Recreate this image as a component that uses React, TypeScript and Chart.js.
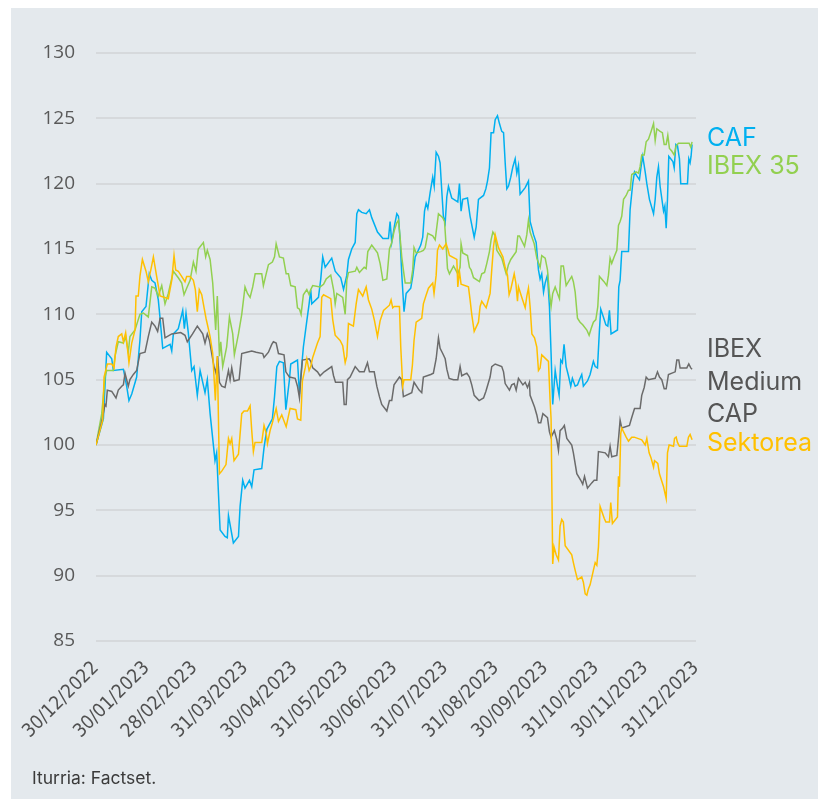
import React, { useEffect, useRef } from "react";
import { Chart, registerables } from "chart.js";

Chart.register(...registerables);

// X axis: days since 30/12/2022, month-end ticks
const tickDays = [0, 31, 60, 91, 121, 152, 182, 213, 244, 274, 305, 335, 366];
const tickLabels = [
  "30/12/2022", "30/01/2023", "28/02/2023", "31/03/2023", "30/04/2023", "31/05/2023",
  "30/06/2023", "31/07/2023", "31/08/2023", "30/09/2023", "31/10/2023", "30/11/2023", "31/12/2023",
];
const yMin = 85;
const yMax = 130;
const yStep = 5;

const seriesNames = ["CAF", "IBEX 35", "IBEX Medium CAP", "Sektorea"];
const seriesColors = ["#00b0f0", "#92d050", "#6b6b6b", "#ffc000"];
const labelColors = ["#00b0f0", "#92d050", "#555555", "#ffc000"];

// [day, value]
const cafSeries: [number, number][] = [[0,100],[4.5,102],[6.5,107.1],[9.6,106.6],[10.6,105.7],[16.7,105.8],[18.7,104.5],[20.1,103.4],[21.8,103.9],[24.8,105.2],[26.8,108],[27.9,110.2],[30.5,110.6],[32.5,113.1],[34,112.6],[36,112.4],[38,111.1],[39,109.8],[40.7,107.4],[45.2,107.7],[46.2,107.2],[47.2,108.5],[50.2,108.9],[52.9,110.3],[53.9,108.9],[54.9,110.1],[56.3,108.6],[58.4,105.7],[59.8,106],[61.8,103.8],[63.5,105.7],[66.5,104],[67.9,105],[69.6,102.4],[72.6,98.8],[73.6,99.4],[75.7,93.5],[78.7,93],[80.1,92.9],[80.8,94.6],[83.8,92.5],[86.9,93],[87.9,95.3],[89.5,97.3],[90.9,96.7],[93.6,97.3],[95,96.8],[96.4,98.1],[101.1,98.2],[102.5,99.8],[104.2,101.2],[107.6,102],[108.9,103.7],[110.3,106],[111.9,106.4],[114.3,106.3],[115.8,102.7],[118,105],[118.8,106.2],[122.9,106.5],[124.1,103.9],[125.1,105.5],[126.5,107.5],[128.6,109.5],[130,110.8],[131,111.9],[131.6,110.8],[135.7,111.3],[137.1,112.7],[138.3,114.4],[139.8,113.6],[143.8,114.3],[145.9,113.3],[149.3,112.8],[151,111.9],[153,113],[154,114.2],[156,115],[158.1,115.5],[159.1,117.7],[160.1,118],[162.1,117.8],[164.8,117.7],[166.8,118],[168.2,117.4],[171.7,116.3],[175,115.8],[178.4,115.8],[179.4,117.1],[180.4,115.5],[182.1,116.8],[183.5,117.7],[184.5,117.5],[185.5,115.7],[186.5,113.1],[187.9,110.2],[189.2,111.6],[192,112],[193.2,112.9],[194.7,114.4],[198.1,115.3],[199.3,115.9],[200.4,117.9],[201.4,118.5],[202.4,118.1],[203.8,119.3],[205.4,120.5],[206.3,119.8],[207.5,122.4],[208.9,122.1],[209.9,121.6],[210.9,119.5],[211.9,117.5],[213,117],[214,119],[215,119.8],[217,118.9],[220.7,118.6],[221.7,120],[222.7,117.9],[223.7,118.8],[226.6,118.9],[228.2,117.5],[230.7,115.9],[231.9,116.7],[233.3,118.8],[236.4,119.1],[237.8,119.6],[238.8,120.2],[240,121.2],[241,123.9],[242.5,123.9],[243.5,124.9],[244.9,125.2],[246.1,124.6],[247.5,124],[248.6,123.9],[249.6,121.6],[250.6,119.6],[251.6,119.8],[253,120.5],[254.3,121.3],[255.7,121.9],[256.7,120.8],[257.7,121.4],[258.7,119.2],[261.8,119.7],[263.8,120.2],[264.8,117.1],[265.9,116.6],[266.9,116.1],[268.5,115.5],[269.9,113.4],[270.9,112.7],[271.9,113.1],[273,111.7],[274,112.4],[275.4,113],[276.6,110.6],[277.6,107],[278.6,103.1],[280.1,105.7],[281.5,104.5],[282.5,103.8],[283.5,106.5],[284.5,106.3],[285.5,107.7],[286.8,106],[288.2,105.3],[289.6,104.5],[290.6,105.1],[292.3,104.5],[293.7,104.6],[294.9,105],[296.3,105.4],[297.3,104.5],[299.8,104.9],[301.4,105.4],[303.4,106.4],[304.5,106],[305.9,105.9],[307.1,108.8],[307.9,110.4],[309.5,109.8],[311,109.2],[312.2,109.1],[313.2,110.3],[314.2,108.5],[318.1,108.8],[318.9,112.1],[319.7,112.6],[320.7,114.8],[324.8,114.8],[325.8,118],[327.4,120],[328.5,120.9],[329.9,120.6],[331.5,120.3],[332.5,121.3],[333.5,122.1],[335,120.9],[336,120],[337.6,118.8],[340.1,117.7],[341.1,118.8],[342.1,120.5],[343.1,121.3],[344.1,119.8],[346.2,117.9],[347,118.3],[347.8,116.6],[348.6,118.8],[349.4,122.1],[351.9,121.7],[352.7,121.2],[353.7,123],[354.7,122.9],[355.9,121.9],[356.7,120],[360.8,120],[361.6,121.9],[362.4,121.6],[363,122.1],[363.6,123]];

const ibex35Series: [number, number][] = [[0,100],[3.5,102.4],[5.5,105.2],[6.5,105.7],[10.6,105.7],[11.6,106.8],[13.6,107.9],[16.7,107.8],[18.1,108.3],[19.7,107.1],[20.7,108.3],[23.8,108.8],[26.8,110],[28.9,110.1],[31.9,109.8],[34,112.1],[36,112],[38,111.4],[40.1,112.2],[42.1,110.8],[44.1,111.6],[47.2,113.3],[50.2,112.8],[52.3,112.4],[53.7,111.5],[55.3,112],[57.4,112.6],[59.4,114],[61,113.3],[62.4,115],[65.5,115.5],[66.9,114.4],[67.9,114.9],[69.6,114.2],[71.2,112.4],[73,108.8],[74,111.4],[75.3,106.8],[76.1,107.9],[77.3,106],[79.7,107.5],[81.4,109.8],[83.4,108.5],[84.4,106.9],[86.9,108.5],[88.9,110],[90.9,112.1],[92.4,111.6],[94,111.3],[95.6,112.1],[97.1,113.1],[101.1,113.1],[102.1,112.2],[103.8,113.1],[105.2,113.8],[107.6,114],[108.9,114.4],[109.9,115.4],[111.9,114.4],[114.3,114.3],[116,113.1],[117.4,113.1],[118.8,112.2],[121.5,112.1],[122.9,110.5],[124.1,110.4],[125.1,110],[126.5,111.5],[128.6,111.9],[130,111.5],[131,111.9],[132.2,112.2],[136.7,112.1],[138.8,112.3],[140.4,112.7],[143.2,113],[144.9,111.9],[145.9,110.8],[146.9,111.6],[150.5,111.3],[152,110],[153,112.6],[154,113.2],[158.1,113.3],[159.1,113.6],[160.7,113.2],[163.6,113.6],[164.8,113.5],[165.8,114.8],[168.2,115.3],[171.7,114.7],[173.3,113.9],[175,112.6],[177.4,112.7],[179,115],[180.4,115.5],[181.9,116.4],[183.5,117],[184.5,117.2],[185.5,115.9],[186.5,114.4],[187.5,113.4],[188.6,112.4],[192,112.4],[193.2,113.4],[194,115.1],[195.3,114.7],[198.1,114.8],[199.7,114.9],[200.8,115.1],[202.4,116.2],[205.4,116],[206.9,115.7],[207.9,116.7],[208.9,117.7],[211.5,117.4],[212.6,117.1],[213.6,115.2],[214.4,113.5],[215.6,113.1],[218.1,113.7],[220.7,113.1],[222.1,113.6],[222.7,115.4],[223.7,114.7],[226.6,114.5],[227.8,113.6],[228.8,113.4],[230.3,112.8],[233.9,112.5],[235.3,113.1],[237,113.2],[238.4,113.9],[240,114.8],[241,115.7],[242.1,116.3],[243.5,116],[244.5,114.9],[247.5,114.3],[250.2,113.1],[251.6,113.8],[253,114.2],[256.3,114.8],[257.3,116],[258.3,116],[261.4,115.2],[262.8,116.1],[263.8,117.2],[264.8,116.3],[267.3,115.4],[268.9,114.3],[270.9,113.6],[271.9,114.5],[274,114.3],[275.4,113.4],[276.6,111.6],[277.6,110.6],[278.6,111.6],[280.1,112.1],[281.5,111.6],[282.7,111.2],[283.7,113.7],[285.1,113.7],[286.8,112.2],[288.2,112.5],[290.2,112.9],[291.2,112.5],[292.3,111.7],[293.7,109.7],[295.3,109.4],[296.9,109.2],[299.4,108.8],[300.8,108.4],[302,108.9],[303.4,109.4],[304.9,109.6],[306.1,110.6],[307.1,112.9],[309.9,112.5],[311.6,112.2],[312.6,113],[313.6,114.3],[314.6,113.9],[316.1,114.4],[317.7,114.9],[318.7,116.8],[319.7,117.1],[320.7,117.5],[321.8,118.8],[323.4,119.1],[324.8,119.5],[325.8,119.5],[326.8,120.7],[329.5,120.9],[330.9,120.8],[331.9,121.3],[332.9,122.2],[334.4,122.2],[335.6,123.2],[337,123.4],[338.6,124],[340.1,124.6],[341.1,123.3],[342.1,124.2],[344.1,124],[345.5,123.9],[346.6,123],[347.8,123],[348.8,123.7],[349.8,122.7],[351.2,122.5],[352.7,122.2],[353.9,122.9],[355.3,123.1],[361.8,123.1],[362.8,122.8],[363.6,123.2]];

const ibexMediumSeries: [number, number][] = [[0,100],[3.5,101.8],[5.5,103.1],[6.1,103],[6.9,104.2],[9.6,104.1],[12.2,103.6],[13.6,104.2],[15.7,104.5],[16.7,104.6],[17.7,105.5],[18.7,105],[19.7,104.5],[20.7,105],[22.8,105.4],[24.8,105.7],[26.8,107],[29.9,107.1],[31.9,108.3],[34,109.4],[36,109.1],[37.6,108.7],[39.1,109.7],[40.7,109.7],[42.1,108.2],[46.2,108.5],[51.7,108.6],[54.3,108.4],[55.7,107.9],[58.9,108.5],[61.8,109.1],[65.1,108.5],[66.5,107.8],[67.9,108.5],[69.2,108],[70.6,107],[72,106],[73.2,105.5],[74.2,106.8],[75.3,104.8],[76.7,104.5],[78.7,104.4],[80.8,105.7],[81.8,105],[82.8,105.9],[84.2,104.9],[87.3,105],[88.9,107],[92,107.1],[95,107.2],[97.7,107.1],[101.7,107],[102.5,106.7],[105.2,107.1],[107.2,107.7],[108.2,107.9],[109.9,107.8],[111.3,107],[114.7,106.9],[115.8,105.6],[118,105.2],[121.5,105.1],[122.9,104.5],[124.1,103.6],[124.9,105],[125.9,106.5],[130,106.6],[131,106.4],[132.2,105.9],[135.1,105.6],[136.7,105.3],[139.2,105.6],[143.8,106],[144.9,105.3],[146.1,104.8],[150.5,104.8],[151.4,103.1],[152.6,103.1],[153.4,105],[155,105.2],[158.1,106],[160.7,105.6],[163.6,105.6],[165.6,106.3],[166.8,105.6],[169.7,105.6],[171.3,104.5],[172.9,103.7],[174.3,103.1],[177.4,102.6],[179,103.4],[180.4,103.4],[181.8,104.6],[185.1,105.2],[186.5,105],[187.5,103.7],[192.6,104],[194,104.8],[197.1,104.2],[198.7,104],[199.7,105.2],[204.2,105.4],[205.8,105.5],[207.5,106.6],[208.9,108.2],[209.9,107.4],[211.5,107],[213,106.6],[214,105.8],[215.4,105.1],[218.1,105],[220.7,105],[222.1,106],[223.1,105.3],[226.2,105.5],[227.8,105.2],[229.2,104.6],[230.7,103.8],[233.7,103.4],[236.4,103.6],[237.8,104.1],[240.4,105.2],[241.4,106],[243.5,106.2],[247.5,106],[248.6,105.6],[249.6,104.7],[252.2,104.2],[253.6,104.6],[255.1,104.7],[256.3,104.2],[257.7,105.1],[260.4,104.6],[261.8,104.8],[263.2,104.4],[264.4,104.8],[264.8,103.8],[267.5,102.9],[268.9,102.3],[269.9,101.7],[271.3,101.7],[272.6,102.4],[275.4,102.1],[276.6,101],[277.6,100.6],[279.6,101.1],[281.1,100.4],[282.1,99.6],[283.1,101.1],[284.7,101.3],[285.7,101.5],[287.2,100.5],[290.2,100],[291.2,99.4],[293.3,97.8],[295.7,97.3],[296.9,97],[298,97.6],[299.8,96.7],[302.4,97.1],[303.9,97.3],[305.5,97.3],[306.5,99.5],[310.6,99.4],[312.6,99.1],[313.6,99.9],[314.6,99.1],[317.7,99.2],[318.9,100.7],[319.7,101.9],[320.7,101.3],[325.4,101.5],[326.8,102.1],[328.5,102.8],[331.9,102.8],[332.9,103.8],[334.4,104.4],[335.6,105.2],[337,105],[341.1,105.1],[342.5,105.6],[343.7,105.2],[345.1,105],[346.6,104.3],[347.8,104.3],[349.2,105.4],[353.3,105.6],[354.3,106.5],[355.5,106.5],[356.3,105.9],[360.4,105.9],[361.6,106.2],[362.8,105.9],[363.6,105.8]];

const sektoreaSeries: [number, number][] = [[0,100],[2.4,101.1],[4.1,101.9],[4.9,105.2],[6.9,106.2],[9.6,106.2],[11,105.9],[12.2,107.5],[13.6,108.3],[15.7,108.5],[16.7,107.9],[18.1,108.6],[19.1,107.5],[20.1,106.3],[21.8,107.8],[23.8,108.8],[24.4,111.4],[25.8,111.4],[26.8,112.9],[28.3,114.2],[30.5,113.3],[31.9,112.5],[33.6,113.5],[35,114.4],[37,112.9],[39.1,111.4],[44.1,111.2],[46.2,112.6],[47.6,114.5],[48.6,113.4],[50.2,113.3],[54.3,112.5],[55.3,112.9],[57.4,112.9],[59.4,112.6],[60.6,111.9],[61.8,110.2],[63,111.9],[64.5,111.5],[65.5,110.8],[67.1,109.7],[69.6,108.3],[71.2,107],[72.8,103.4],[74,106.8],[75.3,97.8],[76.7,98],[79.3,98.5],[80.8,100.5],[81.8,100.1],[82.8,100.5],[84.2,98.8],[86.9,99.3],[88.9,102.4],[90.3,102.6],[92.4,102.6],[94,103],[95,101.1],[96,99.5],[97,100.2],[101.1,100.2],[102.5,101.5],[103.8,100.9],[104.6,100.1],[106.2,101.1],[107.6,101.7],[109.9,102.8],[111.3,101.8],[113.3,102.3],[116,101.4],[118.4,102.8],[121.9,102.7],[122.9,102],[124.9,101.9],[125.9,104.9],[127.6,105.9],[128.6,106.6],[130,105.7],[131,106],[132.2,106.7],[135.1,107.8],[136.7,108.3],[137.7,111.3],[138.8,111.5],[141.8,111.3],[143.2,111.2],[144.4,109.6],[145.9,108.4],[148.9,108],[150.5,107.6],[152,106.3],[153,106.8],[154,109.3],[157,109.1],[158.7,110.8],[160.1,111.9],[162.7,111.4],[164.8,112.1],[166.2,111.1],[168.2,110.4],[169.9,109.5],[171.7,108.3],[173.3,109.5],[175.4,110.3],[179,110.7],[180,111.1],[181,110.5],[181.9,110.6],[185.1,110.6],[185.9,107.5],[187.1,104.5],[187.9,105],[192,105],[193,106.1],[194,108],[195.3,109.4],[198.7,109.7],[199.7,110.8],[201.2,111.4],[202.8,112],[205.4,112.4],[206.2,111.6],[207.5,113],[208.3,114.9],[209.5,115.3],[211.5,115],[213.6,115.4],[214.6,115],[215.6,114.5],[220.1,114.2],[220.7,112.1],[221.7,113.3],[222.7,112.3],[227.2,112.1],[228.2,111.1],[229.2,110],[230.7,108.7],[233.3,109.4],[234.3,110.6],[235.3,111],[238,110.5],[240.4,111.6],[241.4,113.4],[242.5,115.2],[243.5,116.1],[245.5,115.1],[248.2,114.4],[249.6,113.6],[251,113],[252,111.5],[253,111.9],[255.1,113.1],[256.1,112.4],[257.1,111],[257.7,112.1],[259.7,111.3],[261.8,110.5],[262.8,111.4],[263.8,112],[264.8,110.6],[265.9,108.5],[267.5,108.2],[268.9,107.5],[269.9,105.7],[270.9,105.9],[271.9,106.9],[276,106.4],[277,103.4],[277.6,102],[278.6,90.9],[279.4,92.2],[280.7,91.6],[282.1,91.2],[283.1,93.8],[284.1,94.3],[285.1,94.1],[286.2,92.3],[290.2,91.6],[291.2,91],[292.3,90.4],[293.7,89.7],[296.3,89.9],[297.3,89.5],[298.4,88.6],[299.4,88.5],[300.4,89],[301.4,89.3],[303.4,90.4],[304.5,91],[305.5,90.8],[306.5,92.2],[307.5,95.3],[310,94.4],[311,94.1],[313.2,94.1],[314,95.6],[315,94],[318.1,94.5],[318.7,97.6],[319.3,96.8],[320.1,100.9],[320.7,101.3],[323.4,100.6],[324.8,100.3],[326.8,100.6],[328.3,100.6],[332.9,100.4],[335,100],[336,100.5],[337.4,99.4],[338.6,99],[340.1,98.3],[340.7,98.8],[342.7,98.6],[343.7,97.8],[346.2,96.8],[347.8,95.9],[348.6,99.4],[349.6,100],[352.3,99.9],[352.9,100.5],[353.9,100.6],[354.7,100.2],[355.9,99.9],[360.4,99.9],[361.4,100.6],[362.4,100.8],[363.6,100.4]];

const allSeries = [cafSeries, ibex35Series, ibexMediumSeries, sektoreaSeries];

// End-of-line labels (text lines per series)
const endLabelLines = [["CAF"], ["IBEX 35"], ["IBEX", "Medium", "CAP"], ["Sektorea"]];
const endLabelOffsets = [-7, 23, -21, 2];
const endLabelLineGap = 32.5;

const sourceText = "Iturria: Factset.";

const LABEL_FONT = '25px Inter, "Noto Sans", sans-serif';

const endLabelPlugin = {
  id: "endLabels",
  afterDatasetsDraw(chart: any) {
    const { ctx, scales, chartArea } = chart;
    const y = scales.y;
    ctx.save();
    ctx.font = LABEL_FONT;
    ctx.textAlign = "left";
    ctx.textBaseline = "alphabetic";
    allSeries.forEach((s, i) => {
      const last = s[s.length - 1][1];
      const center = y.getPixelForValue(last) + endLabelOffsets[i];
      ctx.fillStyle = labelColors[i];
      endLabelLines[i].forEach((t, k) => {
        ctx.fillText(t, chartArea.right + 11, center + k * endLabelLineGap + 9);
      });
    });
    ctx.restore();
  },
};

export default function App() {
  const canvasRef = useRef<HTMLCanvasElement | null>(null);

  useEffect(() => {
    if (!canvasRef.current) return;
    const chart = new Chart(canvasRef.current, {
      type: "line",
      data: {
        datasets: allSeries.map((s, i) => ({
          label: seriesNames[i],
          data: s.map(([d, v]) => ({ x: d, y: v })),
          borderColor: seriesColors[i],
          backgroundColor: seriesColors[i],
          borderWidth: 1.5,
          pointRadius: 0,
          tension: 0,
          fill: false,
          order: allSeries.length - i,
        })),
      },
      options: {
        responsive: false,
        animation: false,
        devicePixelRatio: 1,
        layout: { padding: { left: 0, top: 53, right: 122, bottom: 0 } },
        plugins: { legend: { display: false }, tooltip: { enabled: false } },
        scales: {
          x: {
            type: "linear",
            min: tickDays[0],
            max: tickDays[tickDays.length - 1],
            grid: { display: false },
            border: { display: false },
            afterBuildTicks: (scale: any) => {
              scale.ticks = tickDays.map((v) => ({ value: v }));
            },
            afterFit: (scale: any) => {
              scale.height = 158;
            },
            ticks: {
              autoSkip: false,
              minRotation: 45,
              maxRotation: 45,
              padding: 8,
              color: "#505050",
              font: { family: '"Liberation Sans Narrow", "DejaVu Sans Condensed", "Liberation Sans", sans-serif', size: 19 },
              callback: (v: any) => {
                const idx = tickDays.indexOf(Number(v));
                return idx >= 0 ? tickLabels[idx] : "";
              },
            },
          },
          y: {
            min: yMin,
            max: yMax,
            grid: { color: "#d6d9dc", lineWidth: 2, drawTicks: false },
            border: { display: false },
            afterFit: (scale: any) => {
              scale.width = 96;
            },
            ticks: {
              stepSize: yStep,
              padding: 21,
              color: "#595959",
              font: { family: '"Open Sans", "Noto Sans", sans-serif', size: 19 },
            },
          },
        },
      },
      plugins: [endLabelPlugin],
    });
    return () => chart.destroy();
  }, []);

  return (
    <div style={{ position: "absolute", left: 0, top: 0, width: 818, height: 799, overflow: "hidden", background: "#ffffff" }}>
      <div style={{ position: "absolute", left: 11, top: 8, width: 807, height: 791, background: "#e4e9ed" }} />
      <canvas ref={canvasRef} width={818} height={799} style={{ position: "absolute", left: 0, top: 0, width: 818, height: 799 }} />
      <div
        style={{
          position: "absolute",
          left: 32,
          top: 767,
          fontFamily: 'Inter, "Noto Sans", sans-serif',
          fontSize: 17.5,
          color: "#3a3a3a",
          lineHeight: "22px",
          whiteSpace: "nowrap",
        }}
      >
        {sourceText}
      </div>
    </div>
  );
}
